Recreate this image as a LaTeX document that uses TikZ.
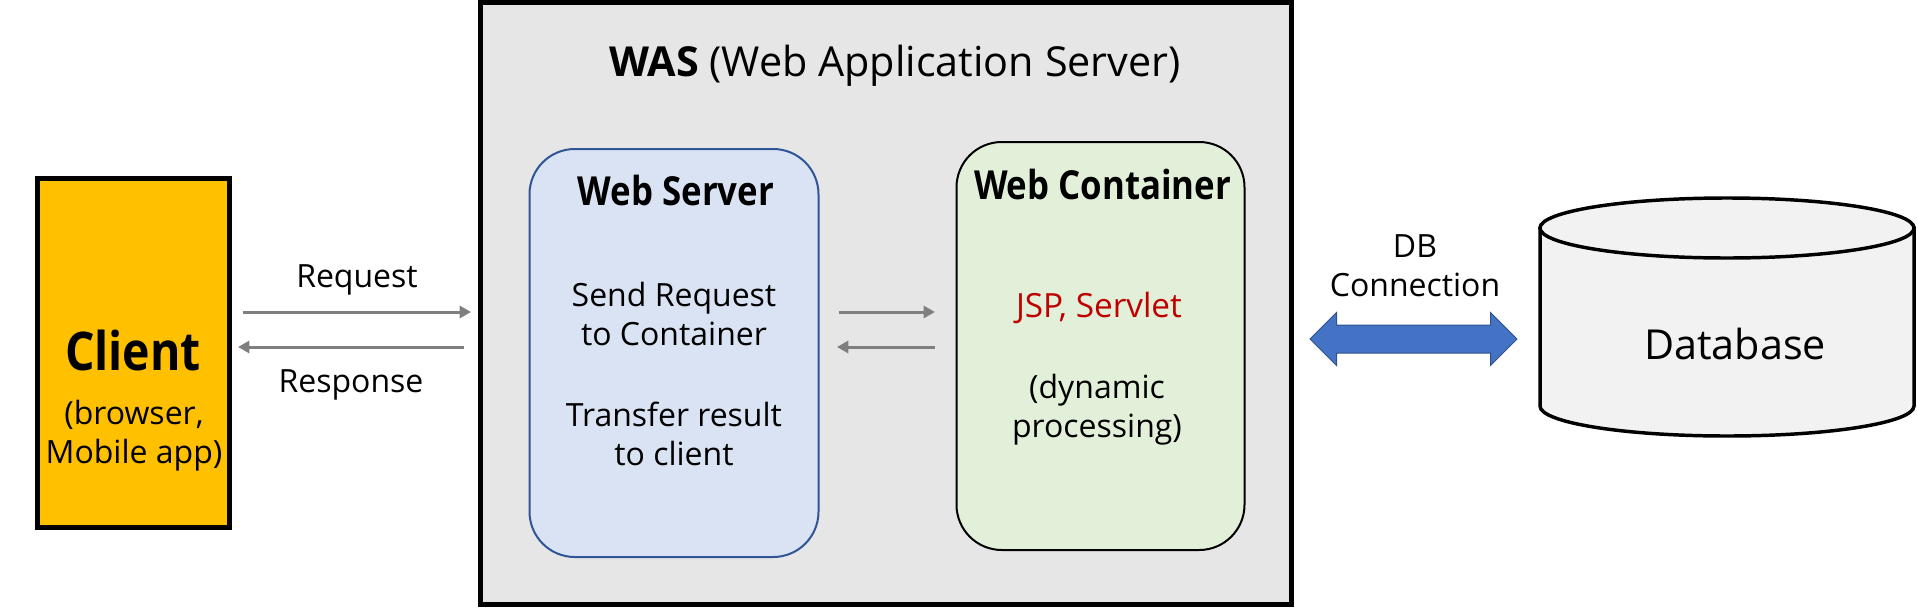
\documentclass[tikz,border=0pt]{standalone}
\usepackage{fontspec}
\setmainfont{Open Sans}
\newfontfamily\headfont{Open Sans}[FakeStretch=0.87]
\usetikzlibrary{arrows.meta,shapes.arrows}

\definecolor{clientfill}{HTML}{FFC000}
\definecolor{wasfill}{HTML}{E6E6E6}
\definecolor{serverfill}{HTML}{DAE3F3}
\definecolor{serverline}{HTML}{2F5597}
\definecolor{containerfill}{HTML}{E2F0D9}
\definecolor{jspred}{HTML}{C00000}
\definecolor{arrowgray}{HTML}{7F7F7F}
\definecolor{dbblue}{HTML}{4472C4}
\definecolor{dbblueline}{HTML}{2F528F}
\definecolor{dbfill}{HTML}{F2F2F2}

\newcommand\txtbody{\fontsize{24}{29.25}\selectfont}
\newcommand\txtlabel{\fontsize{24}{29.25}\selectfont}
\newcommand\txthead{\fontsize{30}{36}\selectfont\headfont\bfseries}

\tikzset{
  clientbox/.style={draw=black,line width=3.75pt,fill=clientfill,minimum width=144pt,minimum height=261.75pt,inner sep=0pt},
  wasbox/.style={draw=black,line width=3.75pt,fill=wasfill,minimum width=608.25pt,minimum height=451.5pt,inner sep=0pt},
  serverbox/.style={draw=serverline,line width=1.5pt,fill=serverfill,rounded corners=34pt,minimum width=216.75pt,minimum height=306pt,inner sep=0pt},
  containerbox/.style={draw=black,line width=1.5pt,fill=containerfill,rounded corners=34pt,minimum width=216pt,minimum height=306pt,inner sep=0pt},
  dbline/.style={draw=black,line width=2.6pt,fill=dbfill},
  dbarrow/.style={double arrow,draw=dbblueline,line width=0.75pt,fill=dbblue,minimum height=155.25pt,minimum width=39pt,double arrow head extend=9.375pt,inner xsep=0pt,inner ysep=10.125pt},
  flowarrow/.style={draw=arrowgray,line width=2.25pt,-{Triangle[length=8.5pt,width=9pt]}},
  txt/.style={anchor=base,inner sep=0pt,align=center},
}

\begin{document}
\begin{tikzpicture}[x=0.75pt,y=0.75pt,yscale=-1,xscale=1]
\useasboundingbox (0,0) rectangle (1917,607);

% Client
\node[clientbox] (client) at (133.5,353) {};
\node[txt,font=\fontsize{40}{48}\selectfont\headfont\bfseries] (clientname) at (133,370) {Client};
\node[txt,font=\txtbody] (clientsub) at (134,463) {(browser,\\Mobile app)};

% WAS
\node[wasbox] (was) at (886,303.5) {};
\node[txt,font=\fontsize{31}{37}\selectfont] (wastitle) at (895,76.7) {\textbf{WAS} (Web Application Server)};

% Web Server
\node[serverbox] (server) at (674,353) {};
\node[txt,font=\txthead] (servertitle) at (676,205) {Web Server};
\node[txt,font=\txtbody] (sendreq) at (674,345) {Send Request\\to Container};
\node[txt,font=\txtbody] (transfer) at (674,465) {Transfer result\\to client};

% Web Container
\node[containerbox] (container) at (1100.5,346) {};
\node[txt,font=\txthead] (containertitle) at (1102.6,199) {Web Container};
\node[txt,font=\fontsize{25}{30}\selectfont,text=jspred] (jsp) at (1099,317) {JSP, Servlet};
\node[txt,font=\txtbody] (dynamic) at (1097,437) {(dynamic\\processing)};

% Database
\draw[dbline] (1540,228) -- (1540,406) .. controls (1540,422.6) and (1623.7,436) .. (1727,436) .. controls (1830.3,436) and (1914,422.6) .. (1914,406) -- (1914,228) -- cycle;
\draw[dbline] (1727,228) ellipse [x radius=140.25pt,y radius=22.5pt];
\node[txt,font=\fontsize{31}{37}\selectfont] (dbname) at (1735,359.5) {Database};
\node[dbarrow] (dbconn) at (1413.5,339) {};
\node[txt,font=\txtlabel] (dblabel) at (1415,296) {DB\\Connection};

% Request / Response
\coordinate (reqrow) at (0,312);
\coordinate (resrow) at (0,347);
\draw[flowarrow,shorten <=8.25pt,shorten >=5.25pt] (client.east |- reqrow) -- (was.west |- reqrow);
\draw[flowarrow,shorten <=10.5pt,shorten >=4.5pt] (was.west |- resrow) -- (client.east |- resrow);
\node[txt,font=\txtlabel] (reqlabel) at (357,287) {Request};
\node[txt,font=\txtlabel] (reslabel) at (351,392) {Response};
\draw[flowarrow,shorten <=14.6pt,shorten >=15.4pt] (server.east |- reqrow) -- (container.west |- reqrow);
\draw[flowarrow,shorten <=15.4pt,shorten >=13.1pt] (container.west |- resrow) -- (server.east |- resrow);

\end{tikzpicture}
\end{document}
